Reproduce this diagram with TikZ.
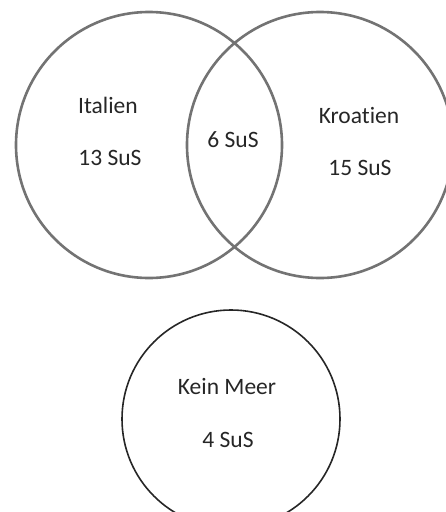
\documentclass[tikz,border=0pt]{standalone}
\usepackage{fontspec}
\setmainfont[Ligatures={NoCommon}]{Carlito}
\begin{document}
\begin{tikzpicture}[x=1pt,y=-1pt,
  setcircle/.style={circle,draw=black!55,line width=2.6pt,inner sep=0pt,minimum size=266pt},
  meercircle/.style={circle,draw=black!85,line width=1.6pt,inner sep=0pt,minimum size=218pt},
  lbl/.style={inner sep=0pt,font=\fontsize{23.5}{28}\selectfont,text=black!85}]
\useasboundingbox (0,0) rectangle (446,512);
\clip (0,0) rectangle (446,512);
\node[setcircle] (italien) at (149,145) {};
\node[setcircle] (kroatien) at (320,145) {};
\node[meercircle] (meer) at (231,419) {};
\node[lbl] (tit) at (108,105) {Italien};
\node[lbl] (nit) at (110,158) {13 SuS};
\node[lbl] (nboth) at (233,140) {6 SuS};
\node[lbl] (tkr) at (359,115) {Kroatien};
\node[lbl] (nkr) at (360,168) {15 SuS};
\node[lbl] (tme) at (227,386) {Kein Meer};
\node[lbl] (nme) at (228,440) {4 SuS};
\end{tikzpicture}
\end{document}
